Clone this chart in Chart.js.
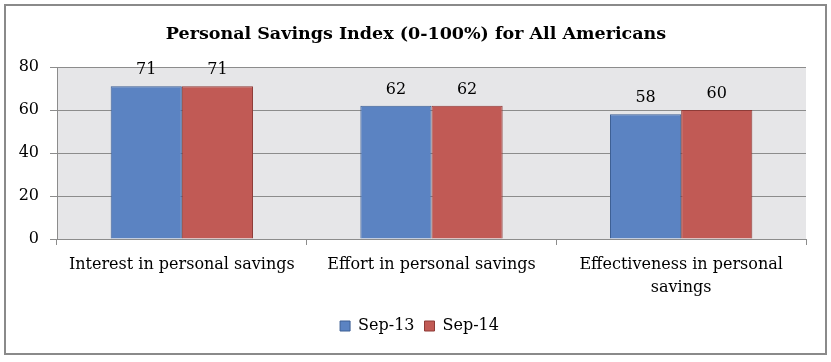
<!DOCTYPE html>
<html>
<head>
<meta charset="utf-8">
<script src="https://cdn.jsdelivr.net/npm/chart.js@4/dist/chart.umd.min.js"></script>
<style>
html,body{margin:0;padding:0;background:#fff;}
#wrap{position:relative;width:831px;height:362px;}
</style>
</head>
<body>
<div id="wrap"><canvas id="c" width="831" height="362"></canvas></div>
<script>
const titleText = 'Personal Savings Index (0-100%) for All Americans';
const categories = [
  'Interest in personal savings',
  'Effort in personal savings',
  ['Effectiveness in personal', 'savings']
];
const seriesNames = ['Sep-13', 'Sep-14'];
const sep13 = [71, 62, 58];
const sep14 = [71, 62, 60];
const yTicks = [0, 20, 40, 60, 80];

const SERIF = '"DejaVu Serif", "Liberation Serif", serif';

const frame = {
  id: 'frame',
  afterLayout(chart) {
    if (chart.legend) { chart.legend.left += 14; chart.legend.right += 14; }
  },
  beforeDraw(chart) {
    const ctx = chart.ctx, a = chart.chartArea;
    ctx.save();
    ctx.fillStyle = '#fff';
    ctx.fillRect(0, 0, chart.width, chart.height);
    ctx.strokeStyle = '#8a8a8a';
    ctx.lineWidth = 2;
    ctx.strokeRect(5, 5, 821, 349);
    ctx.fillStyle = '#e6e6e8';
    ctx.fillRect(a.left, a.top, a.right - a.left, a.bottom - a.top);
    ctx.fillStyle = '#000';
    ctx.font = 'bold 17.5px ' + SERIF;
    ctx.textAlign = 'center';
    ctx.textBaseline = 'alphabetic';
    ctx.fillText(titleText, 416, 39);
    ctx.restore();
  }
};

const valueLabels = {
  id: 'valueLabels',
  afterDatasetsDraw(chart) {
    const ctx = chart.ctx;
    ctx.save();
    ctx.fillStyle = '#000';
    ctx.font = '16px ' + SERIF;
    ctx.textAlign = 'center';
    ctx.textBaseline = 'alphabetic';
    chart.data.datasets.forEach((ds, i) => {
      chart.getDatasetMeta(i).data.forEach((bar, j) => {
        ctx.fillText(String(ds.data[j]), bar.x, bar.y - 12);
      });
    });
    ctx.restore();
  }
};

new Chart(document.getElementById('c'), {
  type: 'bar',
  data: {
    labels: categories,
    datasets: [
      { label: seriesNames[0], data: sep13, backgroundColor: '#5b83c2', borderColor: '#3d5f94', borderWidth: 1 },
      { label: seriesNames[1], data: sep14, backgroundColor: '#c15a55', borderColor: '#8e3b37', borderWidth: 1 }
    ]
  },
  options: {
    responsive: false,
    animation: false,
    devicePixelRatio: 1,
    categoryPercentage: 0.57,
    barPercentage: 1.0,
    layout: { padding: { left: 5, right: 25, top: 67, bottom: 18 } },
    plugins: {
      title: { display: false },
      tooltip: { enabled: false },
      legend: {
        position: 'bottom',
        labels: {
          font: { family: SERIF, size: 16 },
          color: '#000',
          boxWidth: 10,
          boxHeight: 10,
          padding: 10,
          generateLabels(chart) {
            return chart.data.datasets.map((ds, i) => ({
              text: ds.label,
              fillStyle: ds.backgroundColor,
              strokeStyle: ds.borderColor,
              lineWidth: 1,
              datasetIndex: i,
              fontColor: '#000'
            }));
          }
        }
      }
    },
    scales: {
      x: {
        grid: { drawOnChartArea: false, drawTicks: true, tickLength: 6, color: '#8c8c8c', offset: true },
        border: { color: '#8c8c8c', width: 1 },
        ticks: { font: { family: SERIF, size: 16, lineHeight: 1.4 }, color: '#000', padding: 9, maxRotation: 0, autoSkip: false },
        afterFit(s) { s.height = 69; }
      },
      y: {
        min: 0, max: 80,
        afterBuildTicks(s) { s.ticks = yTicks.map(v => ({ value: v })); },
        grid: { color: '#8c8c8c', tickLength: 7 },
        border: { color: '#8c8c8c', width: 1 },
        ticks: { font: { family: SERIF, size: 16 }, color: '#000', padding: 11 },
        afterFit(s) { s.width = 52; }
      }
    }
  },
  plugins: [frame, valueLabels]
});
</script>
</body>
</html>
